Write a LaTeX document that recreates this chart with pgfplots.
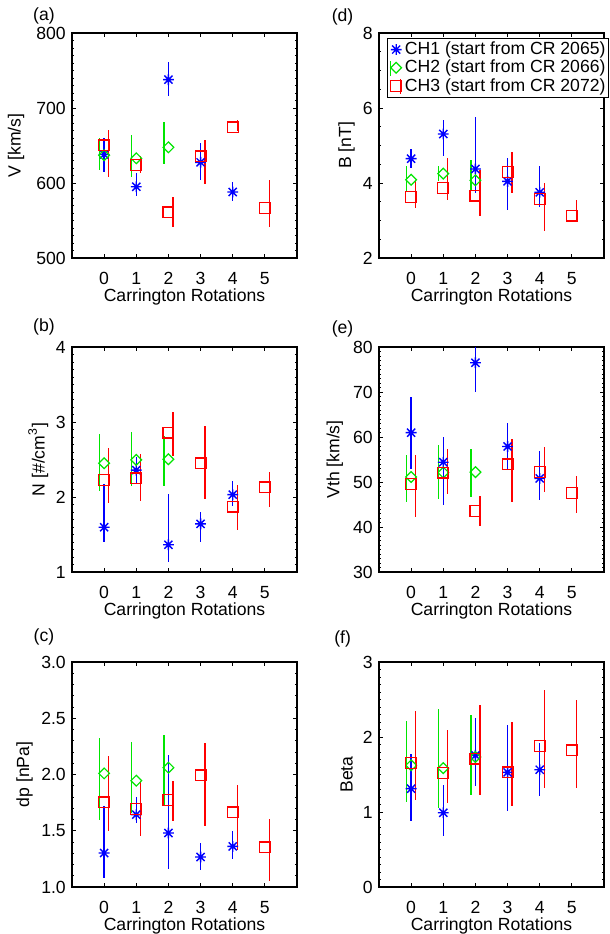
\documentclass[border=0pt]{standalone}
\usepackage{fontspec}
\setmainfont{Liberation Sans}
\usepackage{pgfplots}
\pgfplotsset{compat=1.18}
\usepackage{pgfplotstable}

\definecolor{chA}{rgb}{0,0,1}
\definecolor{chB}{rgb}{0,0.9,0}
\definecolor{chC}{rgb}{1,0,0}

% IDL-style asterisk (8 arms)
\pgfdeclareplotmark{idlast}{%
  \pgfpathmoveto{\pgfqpoint{-\pgfplotmarksize}{0pt}}%
  \pgfpathlineto{\pgfqpoint{\pgfplotmarksize}{0pt}}%
  \pgfpathmoveto{\pgfqpoint{0pt}{-\pgfplotmarksize}}%
  \pgfpathlineto{\pgfqpoint{0pt}{\pgfplotmarksize}}%
  \pgfpathmoveto{\pgfqpoint{-0.75\pgfplotmarksize}{-0.75\pgfplotmarksize}}%
  \pgfpathlineto{\pgfqpoint{0.75\pgfplotmarksize}{0.75\pgfplotmarksize}}%
  \pgfpathmoveto{\pgfqpoint{-0.75\pgfplotmarksize}{0.75\pgfplotmarksize}}%
  \pgfpathlineto{\pgfqpoint{0.75\pgfplotmarksize}{-0.75\pgfplotmarksize}}%
  \pgfusepathqstroke}

\pgfplotsset{
  panel/.style={
    scale only axis, width=112.5pt, height=112.5pt,
    anchor=north west,
    xmin=-1, xmax=6, xtick={0,...,5},
    tick align=inside, tick pos=both,
    major tick length=2.2pt, minor tick length=1.1pt,
    xlabel={Carrington Rotations},
    font=\fontsize{8.8}{10.5}\selectfont,
    /pgf/number format/assume math mode=true,
    axis line style={line width=0.6pt},
    every tick/.style={black, line width=0.5pt},
    xticklabel style={anchor=center, yshift=-10.1pt, inner sep=0.8pt},
    xlabel style={at={(axis description cs:0.5,-0.173)}, anchor=center,
      inner sep=0.8pt},
  },
  ylab/.style={ylabel style={at={(axis description cs:#1,0.5)},
    anchor=center, rotate=0}},
  ch1/.style={only marks, mark=idlast, mark size=2.7pt, color=chA,
    mark options={line width=0.7pt}},
  ch2/.style={only marks, mark=square, mark size=1.9pt, color=chB,
    mark options={rotate=45, line width=0.6pt}},
  ch3/.style={only marks, mark=square, mark size=2.7pt, color=chC,
    mark options={line width=0.6pt}},
  leg1/.style={legend image code/.code={
    \draw[##1] plot coordinates {(0pt,0pt)};}},
  leg2/.style={legend image code/.code={
    \draw[chB, line width=0.6pt] (-3pt,-4pt) -- (-3pt,3.5pt);
    \draw[##1] plot coordinates {(0pt,0pt)};}},
  leg3/.style={legend image code/.code={
    \draw[chC, line width=0.6pt] (2.2pt,-4pt) -- (2.2pt,3.5pt);
    \draw[##1] plot coordinates {(0pt,0pt)};}},
}

% vertical bars from lo to hi, shifted sideways by #2
\newcommand{\bars}[3]{%
  \addplot[forget plot, draw=none, no markers,
    error bars/.cd, y dir=both, y explicit, error mark=none,
    error bar style={draw=#1, line width=0.65pt}]
    table[x expr=\thisrow{x}+#2, y=y,
      y error plus expr=\thisrow{hi}-\thisrow{y},
      y error minus expr=\thisrow{y}-\thisrow{lo}] {#3};}

% ---- (a) V
\pgfplotstableread{
x y lo hi
0 638.0 614.5 660.0
1 595.0 583.0 613.0
2 737.8 715.6 762.0
3 627.6 604.0 654.0
4 588.0 575.6 601.8
}\VA
\pgfplotstableread{
x y lo hi
0 637.0 617.0 660.0
1 633.0 608.5 664.0
2 647.6 626.0 682.0
}\VB
\pgfplotstableread{
x y lo hi
0 650.2 608.5 670.5
1 624.4 613.0 636.4
2 560.9 542.0 581.0
3 635.6 599.0 657.8
4 674.2 668.9 683.6
5 566.7 541.0 604.4
}\VC
% ---- (b) N
\pgfplotstableread{
x y lo hi
0 1.597 1.40 2.17
1 2.358 2.17 2.53
2 1.363 1.13 2.04
3 1.642 1.40 1.80
4 2.031 1.885 2.217
}\NA
\pgfplotstableread{
x y lo hi
0 2.451 2.084 2.836
1 2.496 2.150 2.867
2 2.504 2.150 2.814
}\NB
\pgfplotstableread{
x y lo hi
0 2.230 1.920 2.659
1 2.248 1.951 2.571
2 2.858 2.549 3.133
3 2.447 1.973 2.947
4 1.872 1.566 2.159
5 2.128 1.872 2.336
}\NC
% ---- (c) dp
\pgfplotstableread{
x y lo hi
0 1.302 1.080 1.717
1 1.643 1.569 1.797
2 1.480 1.160 2.176
3 1.267 1.154 1.391
4 1.361 1.249 1.495
}\PA
\pgfplotstableread{
x y lo hi
0 2.010 1.599 2.324
1 1.945 1.658 2.286
2 2.061 1.717 2.354
}\PB
\pgfplotstableread{
x y lo hi
0 1.753 1.501 2.167
1 1.696 1.450 1.945
2 1.776 1.584 1.945
3 1.993 1.540 2.280
4 1.664 1.332 1.904
5 1.353 1.050 1.607
}\PC
% ---- (d) B
\pgfplotstableread{
x y lo hi
0 4.649 4.400 4.907
1 5.307 4.729 5.689
2 4.373 3.733 5.760
3 4.044 3.271 4.667
4 3.751 3.360 4.462
}\BA
\pgfplotstableread{
x y lo hi
0 4.089 3.778 4.444
1 4.249 4.044 4.462
2 4.071 3.778 4.622
}\BB
\pgfplotstableread{
x y lo hi
0 3.627 3.333 4.044
1 3.867 3.556 4.667
2 3.662 3.129 4.356
3 4.293 3.733 4.840
4 3.573 2.711 4.000
5 3.129 2.978 3.556
}\BC
% ---- (e) Vth
\pgfplotstableread{
x y lo hi
0 60.96 52.96 68.9
1 54.4 44.8 60.0
2 76.5 70.0 81.0
3 57.9 53.0 63.2
4 50.8 45.9 57.0
}\TA
\pgfplotstableread{
x y lo hi
0 51.1 45.6 55.9
1 52.1 46.3 58.3
2 52.2 46.7 57.4
}\TB
\pgfplotstableread{
x y lo hi
0 49.6 42.2 56.1
1 52.1 47.4 57.4
2 43.6 40.2 47.0
3 53.9 45.6 59.6
4 52.2 47.8 57.8
5 47.6 43.2 51.3
}\TC
% ---- (f) Beta
\pgfplotstableread{
x y lo hi
0 1.311 0.876 1.780
1 0.990 0.676 1.360
2 1.755 1.351 2.250
3 1.529 1.009 2.164
4 1.564 1.209 1.920
}\FA
\pgfplotstableread{
x y lo hi
0 1.622 1.129 2.209
1 1.585 1.055 2.370
2 1.733 1.231 2.295
}\FB
\pgfplotstableread{
x y lo hi
0 1.653 1.164 2.351
1 1.520 1.120 2.097
2 1.713 1.231 2.431
3 1.529 1.084 2.200
4 1.884 1.320 2.631
5 1.822 1.320 2.489
}\FC

\newcommand{\series}[3]{%
  \bars{chB}{-0.14}{#2}
  \bars{chC}{0.14}{#3}
  \bars{chA}{0}{#1}
  \addplot[ch1, leg1] table[x=x,y=y] {#1};
  \addplot[ch2, leg2] table[x=x,y=y] {#2};
  \addplot[ch3, leg3] table[x=x,y=y] {#3};}

\begin{document}
\begin{tikzpicture}
\useasboundingbox (0,0) rectangle (305pt,-467pt);
\fontsize{8.8}{10.5}\selectfont

\begin{axis}[panel, at={(36pt,-16.5pt)},
  ymin=500, ymax=800, ytick={500,600,700,800}, minor y tick num=9,
  ylabel={V [km/s]}, ylab=-0.249]
\series{\VA}{\VB}{\VC}
\end{axis}

\begin{axis}[panel, at={(36pt,-173.5pt)},
  ymin=1, ymax=4, ytick={1,2,3,4}, minor y tick num=9,
  ylabel={N [\#/cm\textsuperscript{3}]}, ylab=-0.15]
\series{\NA}{\NB}{\NC}
\end{axis}

\begin{axis}[panel, at={(36pt,-331pt)},
  ymin=1, ymax=3, ytick={1,1.5,...,3}, minor y tick num=4,
  yticklabel style={/pgf/number format/fixed,
    /pgf/number format/fixed zerofill, /pgf/number format/precision=1},
  ylabel={dp [nPa]}, ylab=-0.211]
\series{\PA}{\PB}{\PC}
\end{axis}

\begin{axis}[panel, at={(189.5pt,-16.5pt)},
  ymin=2, ymax=8, ytick={2,4,6,8}, minor y tick num=3,
  ylabel={B [nT]}, ylab=-0.144,
  legend cell align=left,
  legend style={at={(0.036,0.978)}, anchor=north west, draw=black,
    line width=0.5pt, inner xsep=1pt, inner ysep=1pt,
    nodes={inner sep=0.7pt, text=black}, column sep=1pt}]
\series{\BA}{\BB}{\BC}
\legend{CH1 (start from CR 2065), CH2 (start from CR 2066), CH3 (start from CR 2072)}
\end{axis}

\begin{axis}[panel, at={(189.5pt,-173.5pt)},
  ymin=30, ymax=80, ytick={30,40,...,80}, minor y tick num=9,
  ylabel={Vth [km/s]}, ylab=-0.196]
\series{\TA}{\TB}{\TC}
\end{axis}

\begin{axis}[panel, at={(189.5pt,-331pt)},
  ymin=0, ymax=3, ytick={0,1,2,3}, minor y tick num=9,
  ylabel={Beta}, ylab=-0.144]
\series{\FA}{\FB}{\FC}
\end{axis}

\node at (22pt,-8pt) {(a)};
\node at (22pt,-163.3pt) {(b)};
\node at (22pt,-318.3pt) {(c)};
\node at (171.3pt,-8.3pt) {(d)};
\node at (171.3pt,-164.3pt) {(e)};
\node at (171.3pt,-319.5pt) {(f)};
\end{tikzpicture}
\end{document}
